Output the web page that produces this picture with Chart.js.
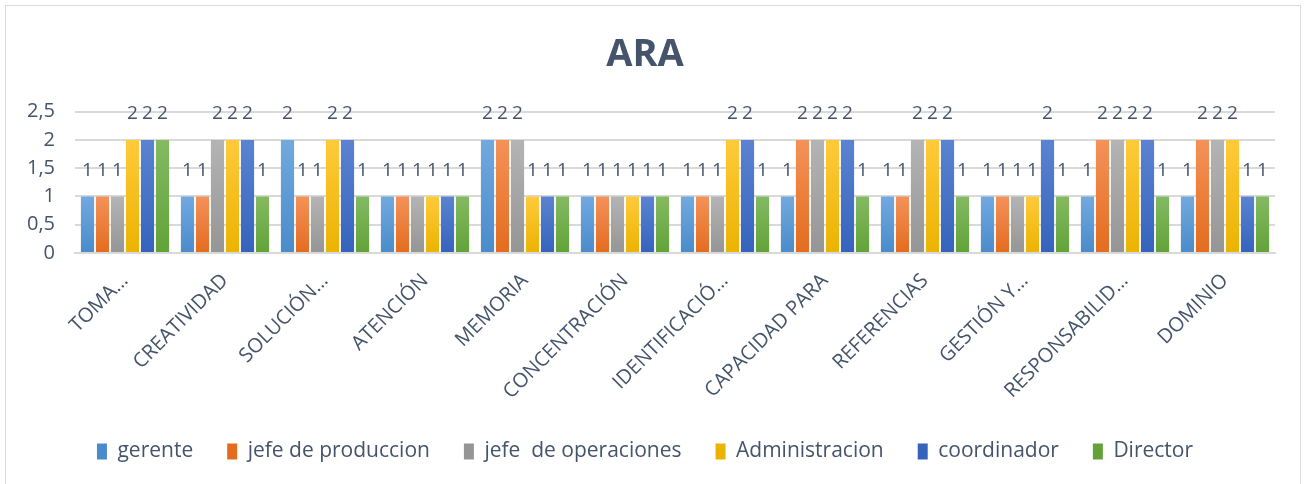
<!DOCTYPE html>
<html>
<head>
<meta charset="utf-8">
<script src="https://cdn.jsdelivr.net/npm/chart.js@4/dist/chart.umd.min.js"></script>
<style>
  html, body { margin: 0; padding: 0; background: #fff; }
  #wrap { width: 1310px; height: 484px; }
</style>
</head>
<body>
<div id="wrap"><canvas id="araChart"></canvas></div>
<script>
const categories = ['TOMA…', 'CREATIVIDAD', 'SOLUCIÓN…', 'ATENCIÓN', 'MEMORIA', 'CONCENTRACIÓN',
    'IDENTIFICACIÓ…', 'CAPACIDAD PARA', 'REFERENCIAS', 'GESTIÓN Y…', 'RESPONSABILID…', 'DOMINIO'];
const gerente        = [1, 1, 2, 1, 2, 1, 1, 1, 1, 1, 1, 1];
const jefeProduccion = [1, 1, 1, 1, 2, 1, 1, 2, 1, 1, 2, 2];
const jefeOperacion  = [1, 2, 1, 1, 2, 1, 1, 2, 2, 1, 2, 2];
const administracion = [2, 2, 2, 1, 1, 1, 2, 2, 2, 1, 2, 2];
const coordinador    = [2, 2, 2, 1, 1, 1, 2, 2, 2, 2, 2, 1];
const director       = [2, 1, 1, 1, 1, 1, 1, 1, 1, 1, 1, 1];
const yTicks = [0, 0.5, 1, 1.5, 2, 2.5];

const textColor = '#44546A';
const fontFam = '"Open Sans", "Noto Sans", sans-serif';

// vertical gradient per bar, like the office fill
function barFill(light, dark) {
    return (c) => {
        const ch = c.chart;
        if (!ch.chartArea || !ch.scales.y) return dark;
        const ys = ch.scales.y;
        const top = ys.getPixelForValue(c.raw), bot = ys.getPixelForValue(0);
        if (!isFinite(top) || !isFinite(bot) || top === bot) return dark;
        const g = ch.ctx.createLinearGradient(0, top, 0, bot);
        g.addColorStop(0, light);
        g.addColorStop(1, dark);
        return g;
    };
}

const valueLabels = {
    id: 'valueLabels',
    afterDatasetsDraw(chart) {
        const ctx = chart.ctx;
        ctx.save();
        ctx.font = '19px ' + fontFam;
        ctx.fillStyle = textColor;
        ctx.textAlign = 'center';
        ctx.textBaseline = 'middle';
        chart.data.datasets.forEach((ds, i) => {
            const meta = chart.getDatasetMeta(i);
            meta.data.forEach((bar, j) => {
                ctx.fillText(String(ds.data[j]), bar.x, bar.y - 26);
            });
        });
        ctx.restore();
    }
};

const frame = {
    id: 'frame',
    beforeDraw(chart) {
        const ctx = chart.ctx;
        ctx.save();
        ctx.strokeStyle = '#D9D9D9';
        ctx.lineWidth = 1;
        ctx.strokeRect(5.5, 5.5, 1295, 500);
        ctx.restore();
    }
};

new Chart(document.getElementById('araChart').getContext('2d'), {
    type: 'bar',
    data: {
        labels: categories,
        datasets: [
            { label: 'gerente', data: gerente, backgroundColor: barFill('#72A9DE', '#4A8BCB') },
            { label: 'jefe de produccion', data: jefeProduccion, backgroundColor: barFill('#F4925A', '#E36C1E') },
            { label: 'jefe  de operaciones', data: jefeOperacion, backgroundColor: barFill('#B4B4B4', '#959595') },
            { label: 'Administracion', data: administracion, backgroundColor: barFill('#FFCA3A', '#EBB300') },
            { label: 'coordinador', data: coordinador, backgroundColor: barFill('#5B83D0', '#3563BC') },
            { label: 'Director', data: director, backgroundColor: barFill('#84BA62', '#62A238') }
        ]
    },
    options: {
        responsive: true,
        maintainAspectRatio: false,
        animation: false,
        datasets: {
            bar: { categoryPercentage: 0.9, barPercentage: 0.88, borderWidth: 0 }
        },
        layout: { padding: { left: 15, right: 35, top: 0, bottom: 12 } },
        scales: {
            x: {
                grid: { display: false },
                border: { color: '#D9D9D9', width: 2 },
                ticks: {
                    color: textColor,
                    font: { family: fontFam, size: 20 },
                    minRotation: 45,
                    maxRotation: 45,
                    autoSkip: false,
                    padding: 8
                },
                afterFit: (s) => { s.height = 154; }
            },
            y: {
                min: 0,
                max: 2.5,
                afterBuildTicks: (s) => { s.ticks = yTicks.map(v => ({ value: v })); },
                grid: { color: '#D9D9D9', lineWidth: 2, drawTicks: false },
                border: { display: false },
                ticks: {
                    color: textColor,
                    font: { family: fontFam, size: 20 },
                    padding: 20,
                    autoSkip: false,
                    callback: (v) => String(v).replace('.', ',')
                },
                afterFit: (s) => { s.width = 60; }
            }
        },
        plugins: {
            title: {
                display: true,
                text: 'ARA',
                color: textColor,
                font: { family: fontFam, size: 38, weight: 'bold' },
                padding: { top: 32, bottom: 34 }
            },
            legend: {
                position: 'bottom',
                labels: {
                    color: textColor,
                    font: { family: fontFam, size: 21 },
                    boxWidth: 10,
                    boxHeight: 16,
                    padding: 34
                }
            },
            tooltip: { enabled: true }
        }
    },
    plugins: [valueLabels, frame]
});
</script>
</body>
</html>
